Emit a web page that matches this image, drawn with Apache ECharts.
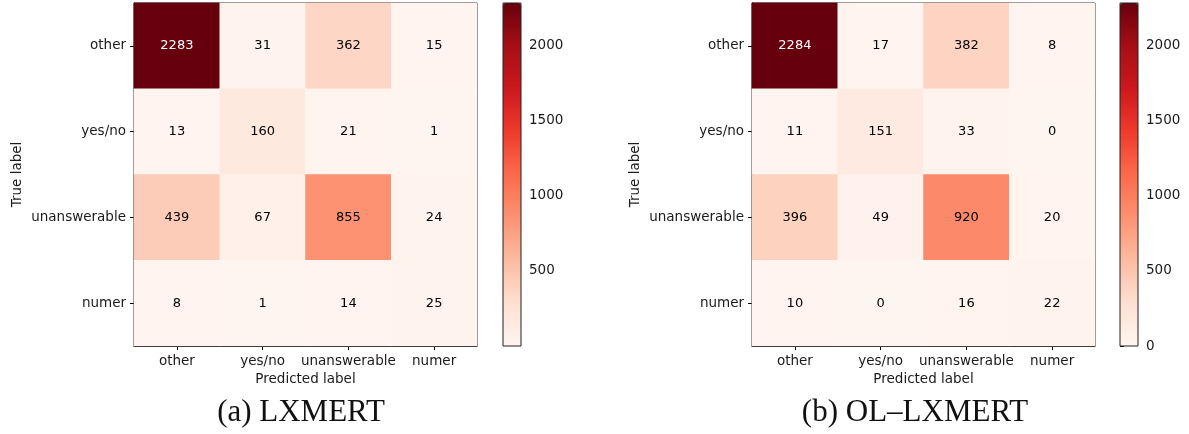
<!DOCTYPE html>
<html>
<head>
<meta charset="utf-8">
<script src="https://cdn.jsdelivr.net/npm/echarts@6/dist/echarts.min.js"></script>
<style>html,body{margin:0;padding:0;background:#fff;}#c{width:1189px;height:434px;}</style>
</head>
<body>
<div id="c"></div>
<script>
const categories = ['other', 'yes/no', 'unanswerable', 'numer'];
const lxmert = [
  [2283, 31, 362, 15],
  [13, 160, 21, 1],
  [439, 67, 855, 24],
  [8, 1, 14, 25]
];
const ollxmert = [
  [2284, 17, 382, 8],
  [11, 151, 33, 0],
  [396, 49, 920, 20],
  [10, 0, 16, 22]
];
const cbarTicksA = [500, 1000, 1500, 2000];
const cbarTicksB = [0, 500, 1000, 1500, 2000];
const rangeA = [1, 2283];
const rangeB = [0, 2284];
const captions = ['(a) LXMERT', '(b) OL\u2013LXMERT'];
const reds = ['#fff5f0', '#fee0d2', '#fcbba1', '#fc9272', '#fb6a4a', '#ef3b2c', '#cb181d', '#a50f15', '#67000d'];

const FONT = 'DejaVu Sans';
const TXT = '#1a1a1a';

function cells(m) {
  let mx = 0;
  m.forEach(r => r.forEach(v => { if (v > mx) mx = v; }));
  const out = [];
  m.forEach((row, i) => row.forEach((v, j) => {
    out.push({ value: [j, i, v], label: { color: v > mx / 2 ? '#ffffff' : '#000000' } });
  }));
  return out;
}

const panels = [
  { left: 134, cbLeft: 503, data: lxmert, range: rangeA, ticks: cbarTicksA, cx: 301 },
  { left: 752, cbLeft: 1120, data: ollxmert, range: rangeB, ticks: cbarTicksB, cx: 915 }
];
const TOP = 3, SIZE = 343, CBW = 18;

const grid = [], xAxis = [], yAxis = [], series = [], visualMap = [], graphic = [];
panels.forEach((p, k) => {
  grid.push({ left: p.left, top: TOP, width: SIZE, height: SIZE, show: true, borderColor: '#000', borderWidth: 1, backgroundColor: 'transparent', containLabel: false });
  grid.push({ left: p.cbLeft, top: TOP, width: CBW, height: SIZE, show: true, borderColor: '#222', borderWidth: 1, backgroundColor: 'transparent', z: 10 });
  const gi = k * 2, ci = k * 2 + 1;
  xAxis.push({
    type: 'category', gridIndex: gi, data: categories, position: 'bottom',
    name: 'Predicted label', nameLocation: 'middle', nameGap: 26,
    nameTextStyle: { fontFamily: FONT, fontSize: 13.5, color: TXT },
    axisLine: { show: true, lineStyle: { color: '#000', width: 1 } },
    axisTick: { show: true, alignWithLabel: true, length: 4, lineStyle: { color: '#000' } },
    axisLabel: { fontFamily: FONT, fontSize: 13.5, color: TXT, margin: 8, interval: 0 },
    splitLine: { show: false }, splitArea: { show: false }
  });
  yAxis.push({
    type: 'category', gridIndex: gi, data: categories, inverse: true,
    name: 'True label', nameLocation: 'middle', nameGap: 110, nameRotate: 90,
    nameTextStyle: { fontFamily: FONT, fontSize: 13.5, color: TXT },
    axisLine: { show: true, lineStyle: { color: '#000', width: 1 } },
    axisTick: { show: true, alignWithLabel: true, length: 4, lineStyle: { color: '#000' } },
    axisLabel: { fontFamily: FONT, fontSize: 13.5, color: TXT, margin: 8, interval: 0 },
    splitLine: { show: false }, splitArea: { show: false }
  });
  xAxis.push({ type: 'value', gridIndex: ci, min: 0, max: 1, show: false });
  yAxis.push({
    type: 'value', gridIndex: ci, min: p.range[0], max: p.range[1], position: 'right',
    axisLine: { show: false },
    axisTick: { show: true, length: 4, inside: false, customValues: p.ticks, lineStyle: { color: '#000' } },
    axisLabel: { show: true, fontFamily: FONT, fontSize: 13.5, color: TXT, margin: 8, customValues: p.ticks, formatter: v => String(Math.round(v)) },
    splitLine: { show: false }
  });
  series.push({
    type: 'heatmap', xAxisIndex: gi, yAxisIndex: gi, data: cells(p.data),
    label: { show: true, fontFamily: FONT, fontSize: 13, formatter: q => q.value[2] },
    itemStyle: { borderWidth: 0 }, emphasis: { disabled: true }
  });
  visualMap.push({
    type: 'continuous', seriesIndex: k, min: p.range[0], max: p.range[1],
    left: p.cbLeft, top: TOP, itemWidth: CBW, itemHeight: SIZE, padding: 0,
    calculable: false, text: null, showLabel: false, hoverLink: false, orient: 'vertical',
    inRange: { color: reds }
  });
  graphic.push({
    type: 'text', x: p.cx, y: 397,
    style: { text: captions[k], font: '31px "Liberation Serif"', fill: '#111', textAlign: 'center' }
  });
});

const chart = echarts.init(document.getElementById('c'), null, { renderer: 'canvas' });
chart.setOption({
  animation: false,
  backgroundColor: '#ffffff',
  grid, xAxis, yAxis, series, visualMap, graphic
});
</script>
</body>
</html>
